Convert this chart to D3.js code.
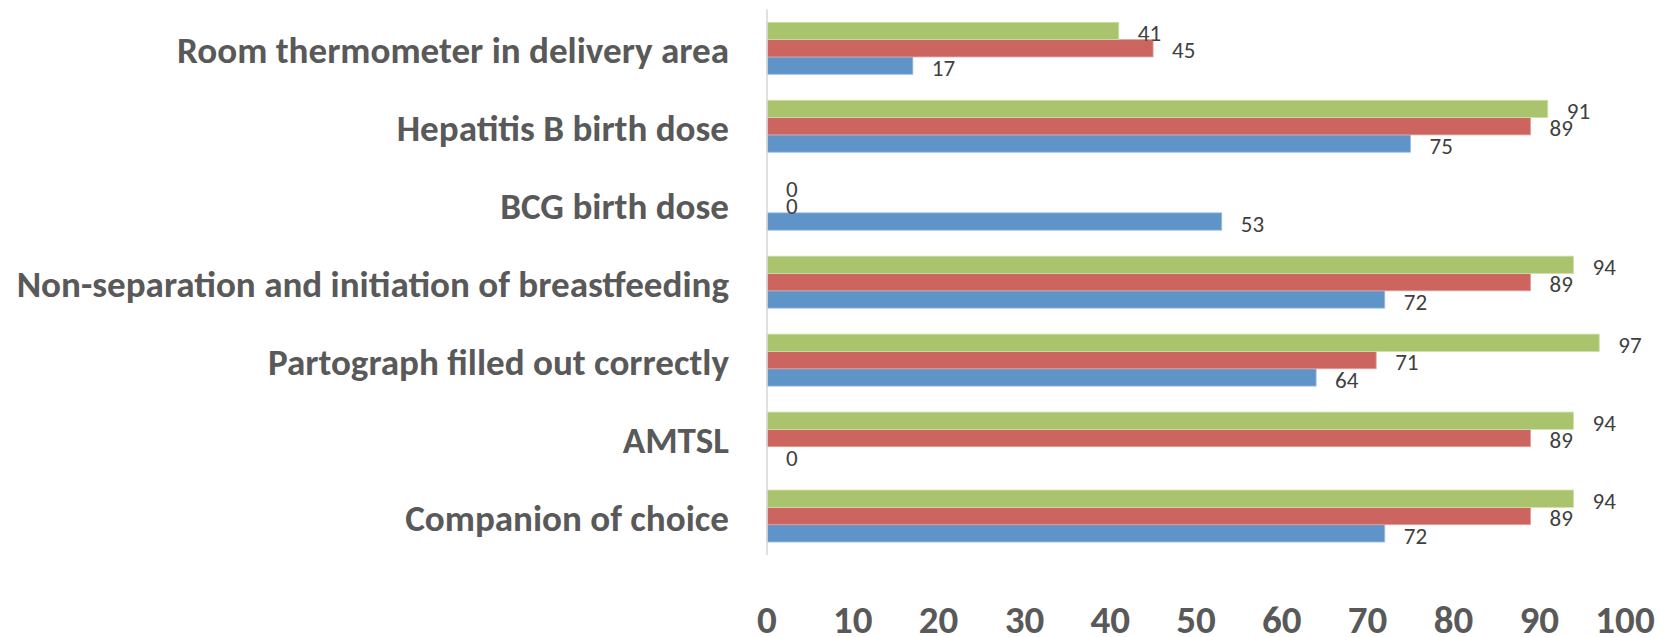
<!DOCTYPE html>
<html>
<head>
<meta charset="utf-8">
<script src="https://cdn.jsdelivr.net/npm/d3@7"></script>
<style>
  html, body { margin: 0; padding: 0; background: #fff; }
  svg { display: block; }
</style>
</head>
<body>
<svg id="chart" width="1664" height="637"></svg>
<script>
// ---- data ----
const categories = [
  "Room thermometer in delivery area",
  "Hepatitis B birth dose",
  "BCG birth dose",
  "Non-separation and initiation of breastfeeding",
  "Partograph filled out correctly",
  "AMTSL",
  "Companion of choice"
];
const seriesNames = ["Series1", "Series2", "Series3"];
const series1 = [17, 75, 53, 72, 64, 0, 72];   // blue (bottom bar)
const series2 = [45, 89, 0, 89, 71, 89, 89];   // red (middle bar)
const series3 = [41, 91, 0, 94, 97, 94, 94];   // green (top bar)
const xTicks = [0, 10, 20, 30, 40, 50, 60, 70, 80, 90, 100];

// ---- layout ----
const W = 1664, H = 637;
const x0 = 767, x1 = 1625;
const yTop = 9.3, yBot = 555;
const colors = { Series1: "#5E94C8", Series2: "#CC6560", Series3: "#A9C46C" };
const strokes = { Series1: "#9DBEDF", Series2: "#E3A29D", Series3: "#CFE0A8" };

const svg = d3.select("#chart");

const x = d3.scaleLinear().domain([0, 100]).range([x0, x1]);
const y = d3.scaleBand().domain(categories).range([yTop, yBot])
  .paddingInner(1/3).paddingOuter(1/6);
// within group: green top, red middle, blue bottom
const yInner = d3.scaleBand().domain(["Series3", "Series2", "Series1"])
  .range([0, y.bandwidth()]);

const valuesBySeries = { Series1: series1, Series2: series2, Series3: series3 };
const rows = [];
categories.forEach((c, i) => {
  seriesNames.forEach(s => rows.push({ cat: c, s, v: valuesBySeries[s][i] }));
});

// bars
svg.append("g").selectAll("rect").data(rows.filter(d => d.v > 0)).join("rect")
  .attr("x", x(0))
  .attr("y", d => y(d.cat) + yInner(d.s))
  .attr("width", d => x(d.v) - x(0))
  .attr("height", yInner.bandwidth())
  .attr("fill", d => colors[d.s])
  .attr("stroke", d => strokes[d.s])
  .attr("stroke-width", 0.8);

// vertical axis line
svg.append("line")
  .attr("x1", x(0)).attr("x2", x(0))
  .attr("y1", yTop).attr("y2", yBot)
  .attr("stroke", "#d9d9d9").attr("stroke-width", 1.6);

// data labels
svg.append("g").selectAll("text").data(rows).join("text")
  .attr("x", d => x(d.v) + 19)
  .attr("y", d => y(d.cat) + yInner(d.s) + yInner.bandwidth() / 2 + 10.2)
  .attr("font-family", "Carlito, Calibri, Lato, sans-serif")
  .attr("font-size", 23)
  .attr("fill", "#404040")
  .text(d => d.v);

// category labels
const catG = svg.append("g");
const catText = catG.selectAll("text").data(categories).join("text")
  .attr("x", 729)
  .attr("y", d => y(d) + y.bandwidth() / 2 + 15)
  .attr("text-anchor", "end")
  .attr("font-family", "Carlito, Calibri, Lato, sans-serif")
  .attr("font-weight", "bold")
  .attr("font-size", 32)
  .attr("fill", "#595959")
  .text(d => d);
// fit font size so the first label spans its reference width
const n0 = catText.nodes()[0];
const w0 = n0.getComputedTextLength();
const fs = 32 * 552 / w0;
catText.attr("font-size", fs);

// x-axis tick labels
svg.append("g").selectAll("text").data(xTicks).join("text")
  .attr("x", d => x(d))
  .attr("y", 632.5)
  .attr("text-anchor", "middle")
  .attr("font-family", "Carlito, Calibri, Lato, sans-serif")
  .attr("font-weight", "bold")
  .attr("font-size", 39)
  .attr("fill", "#595959")
  .text(d => d);
</script>
</body>
</html>
